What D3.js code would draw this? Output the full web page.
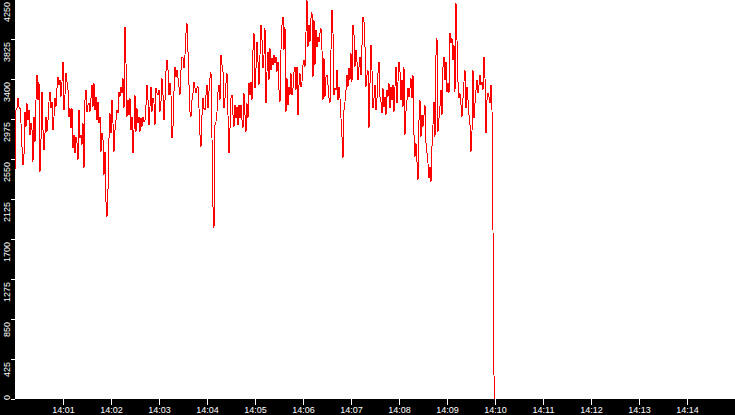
<!DOCTYPE html>
<html lang="en">
<head>
<meta charset="utf-8">
<title>Rate</title>
<script src="https://d3js.org/d3.v7.min.js"></script>
<style type="text/css">
	html, body { margin: 0; padding: 0; background: #000; }
	svg { display: block; }
</style>
</head>
<body>
<div id="chart"></div>
<script type="text/javascript">

	// samples start at 14:00:00, one every 1.25 s
	var startTime = new Date(2000, 0, 1, 14, 0, 0);
	var stepMs = 1250;

	// values
	var values = [
		2433, 3071, 3088, 3195, 3106, 3088, 2929, 2681, 2486, 2593, 3053, 2894, 3142, 2964, 3071, 2805,
		2929, 2858, 2522, 3000, 2734, 3177, 3443, 3177, 3372, 2415, 2752, 3266, 2858, 2646, 2823, 3000,
		2840, 2964, 3159, 3266, 3088, 3159, 2858, 3000, 3195, 3106, 3301, 3425, 3336, 3390, 3212, 3372,
		3584, 3071, 3230, 3460, 3372, 3283, 3000, 3088, 2876, 3088, 2663, 2805, 2610, 2787, 2717, 2539,
		3071, 2770, 2805, 2699, 2929, 2451, 3177, 3283, 3053, 3124, 3142, 3053, 3195, 3336, 3106, 3354,
		3071, 3212, 2964, 3159, 2929, 3000, 2628, 2823, 2752, 2380, 2628, 2097, 1937, 2221, 2770, 3035,
		2823, 3177, 2929, 2628, 2858, 2964, 3071, 3035, 3266, 3212, 3319, 3248, 3407, 3088, 3956, 3567,
		3000, 3177, 3017, 3195, 2858, 3000, 2610, 2858, 3230, 2840, 3088, 2929,
		// 14:02:35
		3000, 2840, 2982, 2893, 3000, 2947, 2964, 3124, 3336, 3177, 2911, 3106, 3319, 3053, 3195, 3141,
		2911, 3301, 3248, 3230, 3283, 3053, 3159, 3407, 3230, 2964, 3177, 3478, 3602, 3496, 3230, 3354,
		3230, 2770, 2893, 3265, 3531, 3425, 3496, 3407, 3319, 3230, 3496, 3637, 3620, 3513, 3655, 3885,
		3991, 3690, 3336, 3053, 3000, 3177, 3248, 3372, 3301, 3248, 3301, 3319, 3088, 2805, 2681, 3017,
		3195, 3088, 3071, 3230, 3336, 3088, 3265, 3407, 3478, 2770, 2044, 1813, 2911, 2947, 3053, 3265,
		3336, 3177, 3655, 3549, 3478, 3088, 3195, 3354, 3460, 3017, 2610, 2876, 3195, 3230, 3017, 2893,
		3124, 2982, 3106, 2911, 3124, 2982, 3124, 2964, 2876, 3248, 3017, 2840, 3141, 2982, 3354, 3230,
		3372, 3177, 3708, 3885, 3301, 3513, 3797, 3584, 3336, 3655, 3974, 3814, 3513,
		// 14:05:11
		3655, 3938, 3141, 3478, 3690, 3389, 3726, 3495, 3619, 3548, 3655, 3566, 3637, 3478, 3584, 3283,
		3159, 3708, 3973, 4062, 3708, 3956, 3053, 3407, 3123, 3318, 3230, 3460, 3230, 3300, 3478, 3531,
		3283, 3531, 3017, 3336, 3460, 3318, 3371, 3548, 3602, 3531, 3903, 4239, 3743, 3973, 3796, 4044,
		4115, 3424, 4027, 3548, 3920, 3743, 3849, 3796, 3885, 3938, 3708, 3177, 3619, 3212, 3424, 3442,
		3336, 3194, 3141, 3708, 4133, 3885, 3230, 3300, 3283, 3495, 3177, 3318, 3194, 2982, 2787, 2557,
		3070, 3159, 3283, 3442, 3318, 3513, 3389, 3672, 3371, 3973, 3867, 3531, 3708, 3584, 3389, 3531,
		3637, 3442, 3761, 4062, 4009, 3743, 3318, 3442, 3495, 2875, 3354, 3761, 3495, 3088, 3194, 3336,
		3070, 3194, 3460, 3584, 3212, 3159, 3035, 3300, 3106, 3212, 3017, 3283,
		// 14:07:46
		3212, 3354, 3088, 3318, 3177, 3336, 3053, 3318, 3531, 3141, 3371, 3584, 3478, 3177, 3389, 3106,
		3531, 2805, 3053, 3177, 3300, 3212, 3300, 3407, 3194, 3442, 2805, 2574, 2716, 2521, 2327, 2964,
		3177, 2787, 3017, 2893, 3017, 3123, 2716, 2610, 2504, 2344, 2469, 2309, 2681, 2911, 3159, 2787,
		3655, 3832, 2840, 2982, 3106, 3283, 3017, 3531, 3637, 3389, 3584, 3265, 3354, 3247, 3885, 3779,
		3832, 3602, 3761, 3265, 4204, 3814, 3371, 3194, 3247, 3123, 3000, 3194, 3371, 3495, 3088, 3318,
		3177, 3017, 2911, 2628, 2840, 3495, 2982, 3141, 3283, 3389, 3247, 3336, 3442, 3336, 3371, 3283,
		3637, 3407, 2823, 3177, 3247, 3212, 3141, 3336, 3070,
		// drop to zero at 14:10
		1800, 250, 0
	];

	// axis ticks
	var yTicks = [0, 425, 850, 1275, 1700, 2125, 2550, 2975, 3400, 3825, 4250];
	var xTickMinutes = [1, 2, 3, 4, 5, 6, 7, 8, 9, 10, 11, 12, 13, 14];
	var xDomainMinutes = [0, 15];

	//Width and height
	var w = 735;
	var h = 415;
	var left = 15;
	var bottom = 399;

	var data = values.map(function(v, i) {
		return { t: new Date(startTime.getTime() + i * stepMs), v: v };
	});

	var xScale = d3.scaleTime()
		.domain(xDomainMinutes.map(function(m) { return d3.timeMinute.offset(startTime, m); }))
		.range([left, w]);

	var yScale = d3.scaleLinear()
		.domain([0, 4250])
		.range([bottom, -1]);

	var svg = d3.select("#chart")
		.append("svg")
		.attr("width", w)
		.attr("height", h);

	// black frame, white plot
	svg.append("rect")
		.attr("width", w)
		.attr("height", h)
		.attr("fill", "#000");

	svg.append("rect")
		.attr("x", left)
		.attr("y", 0)
		.attr("width", w - left)
		.attr("height", bottom)
		.attr("fill", "#fff");

	//X axis
	var xAxis = d3.axisBottom(xScale)
		.tickValues(xTickMinutes.map(function(m) { return d3.timeMinute.offset(startTime, m); }))
		.tickFormat(d3.timeFormat("%H:%M"))
		.tickSize(6)
		.tickPadding(2);

	var gx = svg.append("g")
		.attr("transform", "translate(0," + bottom + ")")
		.call(xAxis);

	gx.select(".domain").remove();
	gx.selectAll("line").attr("stroke", "#fff").attr("shape-rendering", "crispEdges");
	gx.selectAll("text")
		.attr("fill", "#fff")
		.attr("font-family", "Liberation Sans, Arial, sans-serif")
		.attr("font-size", "9px");

	//Y axis: short ticks and labels turned on their side
	var gy = svg.append("g");

	gy.selectAll("line")
		.data(yTicks)
		.enter()
		.append("line")
		.attr("x1", left - 4)
		.attr("x2", left)
		.attr("y1", function(d) { return Math.round(yScale(d)) + 0.5; })
		.attr("y2", function(d) { return Math.round(yScale(d)) + 0.5; })
		.attr("stroke", "#fff");

	gy.selectAll("text")
		.data(yTicks)
		.enter()
		.append("text")
		.text(function(d) { return d; })
		.attr("text-anchor", "end")
		.attr("font-family", "Liberation Sans, Arial, sans-serif")
		.attr("font-size", "9px")
		.attr("fill", "#fff")
		.attr("transform", function(d) {
			// bottom label is pushed up so it stays above the x strip
			var y = d === 0 ? yScale(d) - 4 : yScale(d) + 3;
			return "translate(10," + y + ") rotate(-90)";
		});

	//Line
	var line = d3.line()
		.x(function(d) { return xScale(d.t); })
		.y(function(d) { return yScale(d.v); });

	svg.append("path")
		.datum(data)
		.attr("d", line)
		.attr("fill", "none")
		.attr("stroke", "#ff0000")
		.attr("stroke-width", 1)
		.attr("shape-rendering", "crispEdges");

</script>
</body>
</html>
